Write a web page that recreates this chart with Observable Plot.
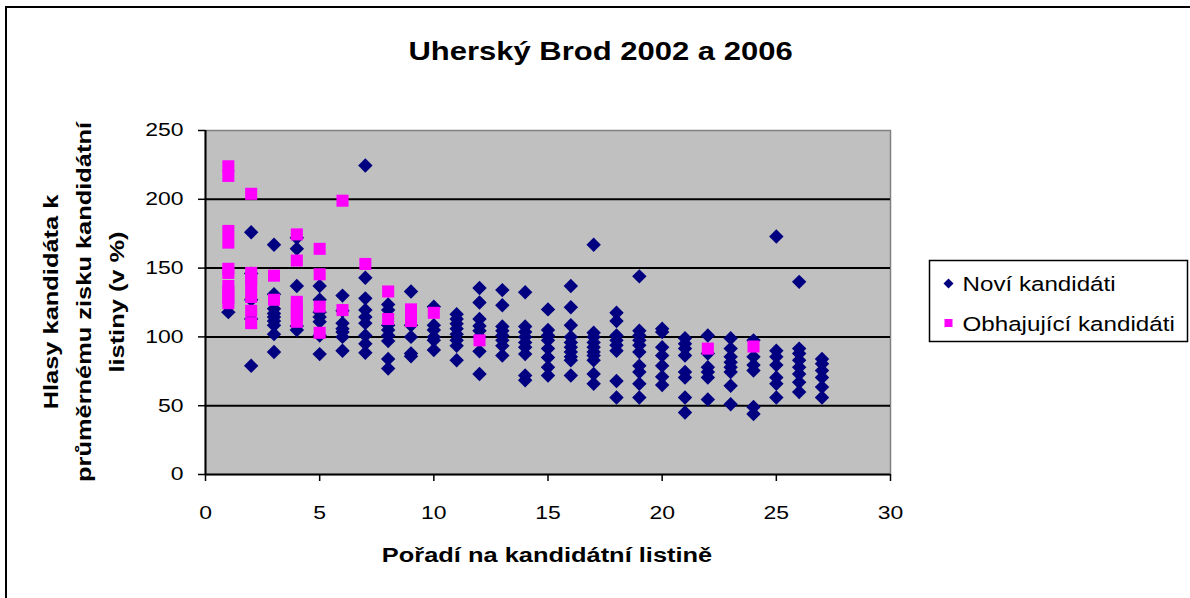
<!DOCTYPE html>
<html>
<head>
<meta charset="utf-8">
<script src="https://cdn.jsdelivr.net/npm/d3@7"></script>
<script src="https://cdn.jsdelivr.net/npm/@observablehq/plot@0.6"></script>
<style>
  html, body { margin: 0; padding: 0; background: #ffffff; overflow: hidden; }
  #wrap { position: relative; width: 1190px; height: 598px; overflow: hidden; background: #fff; }
  #chart { position: absolute; left: 0; top: 0; }
  #outer { position: absolute; left: 5px; top: 6px; width: 1300px; height: 700px;
           border-left: 2px solid #000; border-top: 2px solid #000; box-sizing: border-box; pointer-events: none; }
</style>
</head>
<body>
<div id="wrap"><div id="chart"></div><div id="outer"></div></div>
<script>
// ---------- texts ----------
const chartTitle = "Uherský Brod 2002 a 2006";
const yTitleLines = ["Hlasy kandidáta k", "průměrnému zisku kandidátní", "listiny (v %)"];
const xTitle = "Pořadí na kandidátní listině";
const seriesNames = ["Noví kandidáti", "Obhajující kandidáti"];

// ---------- ticks ----------
const xTicks = [0, 5, 10, 15, 20, 25, 30];
const yTicks = [0, 50, 100, 150, 200, 250];
const gridValues = [50, 100, 150, 200];

// ---------- data: values per list position (index 0 = position 1) ----------
const noviByPosition = [
  [118],
  [176, 146, 127, 113, 79],
  [167, 131, 120.5, 117, 114.5, 111.5, 108.5, 102, 89],
  [172, 164, 137, 108, 105],
  [137, 127, 118, 114.5, 111, 101, 87.5],
  [130, 119, 110, 106, 103.5, 100, 90],
  [224.5, 143, 128, 119.5, 114.5, 110, 101, 95, 88.5],
  [123.5, 119.5, 108.5, 105, 101, 97, 84, 77],
  [133, 108.5, 100, 88, 86],
  [122, 108.5, 105, 100, 97.5, 90.5],
  [116.5, 113, 109.5, 106, 102, 97.5, 93.5, 83],
  [135.5, 125, 113, 108, 104.5, 100, 89.5, 73],
  [134, 123, 107.5, 104.5, 101, 97.5, 93.5, 86.5],
  [132.5, 107.5, 103.5, 100, 96, 92.5, 87.5, 72, 68.5],
  [120, 105, 101, 97.5, 91.5, 85, 78, 72],
  [137, 121.5, 108.5, 100, 96, 92.5, 89, 85.5, 83, 72],
  [167, 103, 100, 96, 92.5, 89, 86.5, 83, 73, 66],
  [117.5, 111.5, 101, 97.5, 94, 90, 68, 56],
  [144, 104.5, 101, 97.5, 94, 89, 79, 74.5, 66, 56],
  [106, 103.5, 92.5, 86.5, 79, 71, 65],
  [99, 95, 91.5, 86.5, 74.5, 70.5, 56, 45],
  [101, 88, 78, 74.5, 70.5, 54.5],
  [99, 91.5, 85.5, 81.5, 78, 74.5, 64.5, 51],
  [97.5, 85.5, 79.5, 75.5, 49, 44],
  [173, 90, 85.5, 79.5, 70.5, 66, 56],
  [140, 91.5, 88, 83, 78, 73, 67, 60],
  [84, 80.5, 75.5, 70.5, 63.5, 56]
];
const obhajByPosition = [
  [224, 217, 177, 168.5, 149.5, 146.5, 137, 133, 128.5, 124.5],
  [204, 146.5, 142, 137.5, 129, 119, 110],
  [144.5, 127],
  [174.5, 155.5, 125.5, 120.5, 116, 111],
  [164, 145.5, 122, 103],
  [199, 119.5],
  [153],
  [133, 113],
  [120, 111.5],
  [117.5],
  [],
  [97.5],
  [], [], [], [], [], [], [], [], [],
  [91.5],
  [],
  [93],
  [], [], []
];

// ---------- colours ----------
const colNovi = "#000080";
const colObhaj = "#ff00ff";
const plotBg = "#c0c0c0";
const STRETCH = 1.24; // wide glyph rendering of the original
const FONT = "'Liberation Sans', Arial, sans-serif";

const toRows = (arr, name) => arr.flatMap((vals, i) => vals.map(v => ({poradi: i + 1, hlasy: v, skupina: name})));
const noviRows = toRows(noviByPosition, seriesNames[0]);
const obhajRows = toRows(obhajByPosition, seriesNames[1]);

const chart = Plot.plot({
  width: 1190,
  height: 598,
  marginLeft: 205,
  marginRight: 300,
  marginTop: 130,
  marginBottom: 124,
  style: {background: "transparent", fontFamily: FONT, fontSize: "18.5px", color: "#000"},
  x: {domain: [0, 30]},
  y: {domain: [0, 250]},
  marks: [
    Plot.frame({fill: plotBg, stroke: "#808080", strokeWidth: 1.5}),
    Plot.ruleY(gridValues, {stroke: "#000", strokeWidth: 2}),
    Plot.dot(noviRows, {x: "poradi", y: "hlasy", symbol: "diamond2", r: 6.5, fill: colNovi, stroke: "none"}),
    Plot.dot(obhajRows, {x: "poradi", y: "hlasy", symbol: "square", r: 6.8, fill: colObhaj, stroke: "none"}),
    Plot.ruleX([0], {stroke: "#000", strokeWidth: 2}),
    Plot.ruleY([0], {stroke: "#000", strokeWidth: 2}),
    Plot.axisX({ticks: xTicks, tickSize: 7, tickPadding: 24, strokeWidth: 1.5, label: null, tickFormat: d => String(d)}),
    Plot.axisY({ticks: yTicks, tickSize: 7, tickPadding: 15, strokeWidth: 1.5, label: null, tickFormat: d => String(d)})
  ]
});

document.getElementById("chart").appendChild(chart);

// stretch tick labels horizontally like the original
d3.select(chart).selectAll("text").each(function () {
  const len = this.getComputedTextLength();
  if (len > 0) {
    this.setAttribute("textLength", (len * STRETCH).toFixed(2));
    this.setAttribute("lengthAdjust", "spacingAndGlyphs");
  }
});

const svg = d3.select(chart);
const g = svg.append("g").attr("font-family", FONT).attr("fill", "#000");

// title
g.append("text")
  .attr("transform", `translate(600.5,60) scale(${STRETCH},1)`)
  .attr("text-anchor", "middle").attr("font-weight", "bold").attr("font-size", 25)
  .text(chartTitle);

// y title (three rotated lines)
const yLineX = [57.5, 91, 124];
yTitleLines.forEach((t, i) => {
  g.append("text")
    .attr("transform", `translate(${yLineX[i]},302) rotate(-90) scale(${STRETCH},1)`)
    .attr("text-anchor", "middle").attr("font-weight", "bold").attr("font-size", 20.5)
    .text(t);
});

// x title
g.append("text")
  .attr("transform", `translate(547,562) scale(${STRETCH},1)`)
  .attr("text-anchor", "middle").attr("font-weight", "bold").attr("font-size", 20.5)
  .text(xTitle);

// legend
const lg = g.append("g");
lg.append("rect").attr("x", 929.5).attr("y", 260.5).attr("width", 258).attr("height", 81)
  .attr("fill", "#fff").attr("stroke", "#000").attr("stroke-width", 1.5);
lg.append("path").attr("transform", "translate(948.5,283.5)")
  .attr("d", d3.symbol(d3.symbolDiamond2, 64)()).attr("fill", colNovi);
lg.append("path").attr("transform", "translate(948.5,323)")
  .attr("d", d3.symbol(d3.symbolSquare, 64)()).attr("fill", colObhaj);
[[seriesNames[0], 290.5], [seriesNames[1], 330.5]].forEach(([t, y]) => {
  lg.append("text")
    .attr("transform", `translate(962.5,${y}) scale(${STRETCH},1)`)
    .attr("text-anchor", "start")
    .attr("font-size", 19.5)
    .text(t);
});
</script>
</body>
</html>
